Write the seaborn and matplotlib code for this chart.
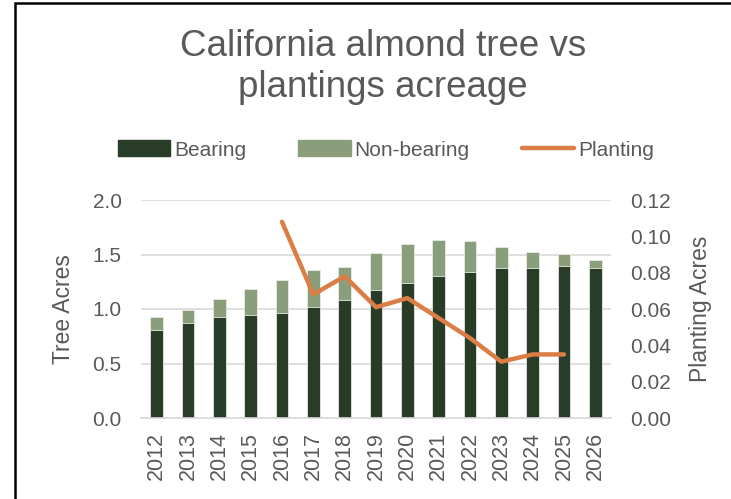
import numpy as np
import pandas as pd
import matplotlib
matplotlib.use("Agg")
import matplotlib.pyplot as plt
from matplotlib.patches import Rectangle
from matplotlib.lines import Line2D
import seaborn as sns

# datos
years = [2012, 2013, 2014, 2015, 2016, 2017, 2018, 2019, 2020, 2021, 2022, 2023, 2024, 2025, 2026]
bearing = [0.81, 0.874, 0.924, 0.942, 0.966, 1.018, 1.085, 1.177, 1.239, 1.303, 1.342, 1.376, 1.376, 1.397, 1.379]
non_bearing = [0.117, 0.12, 0.171, 0.241, 0.30, 0.34, 0.297, 0.34, 0.357, 0.33, 0.282, 0.19, 0.144, 0.108, 0.073]
planting = [None, None, None, None, 0.108, 0.068, 0.078, 0.061, 0.066, 0.055, 0.044, 0.031, 0.035, 0.035, None]

c_bear = "#283C28"
c_nonbear = "#8A9E7C"
c_plant = "#DB7D44"
c_text = "#595959"
c_grid = "#D9D9D9"

sns.set_theme(style="white")
plt.rcParams['font.family'] = ['Liberation Sans', 'DejaVu Sans']

df = pd.DataFrame({"year": [str(y) for y in years], "bearing": bearing, "non_bearing": non_bearing,
                   "planting": planting})
df["total"] = df["bearing"] + df["non_bearing"]
df["pos"] = np.arange(len(df))

W, H = 731, 499
fig = plt.figure(figsize=(W / 100, H / 100), dpi=100)
ax = fig.add_axes([141 / W, 1 - 418 / H, 470 / W, 218 / H])

sns.barplot(data=df, x="year", y="total", color=c_nonbear, saturation=1, width=0.4,
            edgecolor="#E6EBE3", linewidth=0.6, ax=ax)
sns.barplot(data=df, x="year", y="bearing", color=c_bear, saturation=1, width=0.4,
            edgecolor="#E6EBE3", linewidth=0.6, ax=ax)

ax.set_ylim(0, 2.0)
ax.set_yticks([0, 0.5, 1.0, 1.5, 2.0])
ax.set_yticklabels(["0.0", "0.5", "1.0", "1.5", "2.0"])
ax.set_xlim(-0.5, len(df) - 0.5)
ax.yaxis.grid(True, color=c_grid, linewidth=1.2)
ax.set_axisbelow(True)
for s in ["top", "right", "left"]:
    ax.spines[s].set_visible(False)
ax.spines["bottom"].set_color(c_grid)
ax.spines["bottom"].set_linewidth(1.2)
ax.tick_params(axis="y", length=0, labelsize=15, colors=c_text, pad=14)
ax.tick_params(axis="x", length=0, labelsize=15.5, colors=c_text, labelrotation=90, pad=10)
ax.set_xlabel("")
ax.set_ylabel("")

ax2 = ax.twinx()
sns.lineplot(data=df, x="pos", y="planting", color=c_plant, linewidth=3.2, ax=ax2)
ax2.set_ylim(0, 0.12)
ax2.set_yticks(np.arange(0, 0.121, 0.02))
ax2.set_yticklabels([f"{v:.2f}" for v in np.arange(0, 0.121, 0.02)])
for s in ax2.spines.values():
    s.set_visible(False)
ax2.tick_params(axis="y", length=0, labelsize=15, colors=c_text, pad=14)
ax2.set_ylabel("")
ax2.set_xlabel("")
ax2.grid(False)

# titulos de ejes
fig.text(63 / W, 1 - 309 / H, "Tree Acres", rotation=90, ha="center", va="center",
         fontsize=16.5, color=c_text)
fig.text(701 / W, 1 - 309 / H, "Planting Acres", rotation=90, ha="center", va="center",
         fontsize=16.5, color=c_text)

# titulo en dos lineas
fig.text(383 / W, 1 - 56 / H, "California almond tree vs", ha="center", va="baseline",
         fontsize=26.5, color=c_text)
fig.text(383 / W, 1 - 97 / H, "plantings acreage", ha="center", va="baseline",
         fontsize=26.5, color=c_text)

handles = [Rectangle((0, 0), 1, 1, color=c_bear), Rectangle((0, 0), 1, 1, color=c_nonbear),
           Line2D([0], [0], color=c_plant, linewidth=3.2)]
fig.legend(handles, ["Bearing", "Non-bearing", "Planting"], loc="center", ncol=3,
           bbox_to_anchor=(386 / W, 1 - 150 / H), frameon=False, fontsize=15,
           labelcolor=c_text, handlelength=2.5, handletextpad=0.2, columnspacing=2.5,
           handleheight=0.8)

# marco del grafico
fig.patches.append(Rectangle((15 / W, -0.1), 1.1, 1.1 - 3 / H, transform=fig.transFigure,
                             fill=False, edgecolor="black", linewidth=1.8))

fig.savefig("out.png", dpi=100)
